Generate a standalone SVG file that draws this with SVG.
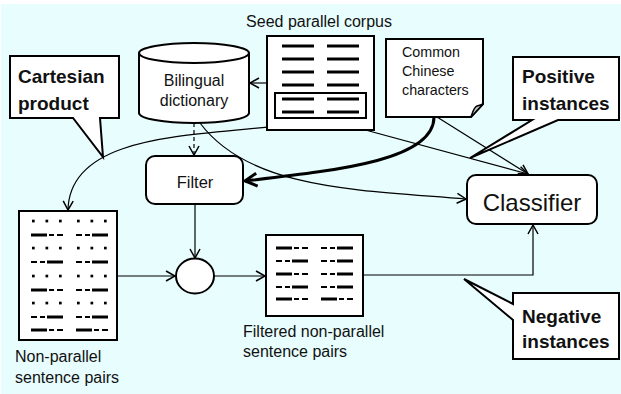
<svg xmlns="http://www.w3.org/2000/svg" xmlns:xlink="http://www.w3.org/1999/xlink" width="621" height="394" viewBox="0 0 621 394">
<style>
.txt{font-family:"Liberation Sans",Arial,sans-serif;fill:#111}
.bold{font-family:"Liberation Sans",Arial,sans-serif;font-weight:bold;fill:#111;font-size:19px}
.box{fill:#fff;stroke:#000;stroke-width:2}
.conn{fill:none;stroke:#000;stroke-width:1.2}
.callout{fill:#fff;stroke:#000;stroke-width:2;stroke-linejoin:miter}
.tk{stroke:#000;stroke-width:3}
.tn{stroke:#000;stroke-width:2}
</style>
<defs>
<marker id="ah" markerUnits="userSpaceOnUse" markerWidth="14" markerHeight="14" refX="0" refY="0" viewBox="-12 -7 14 14" orient="auto">
<path d="M-9,-5 L0,0 L-9,5" fill="none" stroke="#000" stroke-width="1.5"/>
</marker>
<marker id="ahb" markerUnits="userSpaceOnUse" markerWidth="20" markerHeight="20" refX="0" refY="0" viewBox="-16 -10 20 20" orient="auto">
<path d="M-12,-6.5 L0,0 L-12,6.5" fill="none" stroke="#000" stroke-width="3"/>
</marker>
<g id="pa"><line x1="0" y1="0" x2="16" y2="0" class="tk"/><line x1="18" y1="0" x2="23" y2="0" class="tn"/><line x1="26" y1="0" x2="32" y2="0" class="tn"/></g>
<g id="pb"><line x1="0" y1="0" x2="6" y2="0" class="tn"/><line x1="9" y1="0" x2="14" y2="0" class="tn"/><line x1="16" y1="0" x2="32" y2="0" class="tk"/></g>
<g id="pd"><rect x="1" y="-1.3" width="2.7" height="2.7" fill="#000"/><rect x="14.5" y="-1.3" width="2.7" height="2.7" fill="#000"/><rect x="28" y="-1.3" width="2.7" height="2.7" fill="#000"/></g>
</defs>
<rect x="1" y="4" width="620" height="390" fill="#E8FDFD"/>

<g id="connectors">
<line x1="267" y1="83" x2="250" y2="83" class="conn" marker-end="url(#ah)"/>
<line x1="194" y1="123" x2="194" y2="155" class="conn" stroke-dasharray="4,3" marker-end="url(#ah)"/>
<path d="M321 118 C240 140, 70 120, 68 210" class="conn" marker-end="url(#ah)"/>
<line x1="321" y1="118" x2="528" y2="174" class="conn" marker-end="url(#ah)"/>
<line x1="437" y1="117" x2="528" y2="174" class="conn" marker-end="url(#ah)"/>
<path d="M434 117 C434 160, 340 170, 245 181" fill="none" stroke="#000" stroke-width="3" marker-end="url(#ahb)"/>
<path d="M200 123 C250 190, 360 190, 466 199" class="conn" marker-end="url(#ah)"/>
<line x1="195" y1="204" x2="195" y2="258" class="conn" marker-end="url(#ah)"/>
<line x1="117" y1="276" x2="175" y2="276" class="conn" marker-end="url(#ah)"/>
<line x1="214" y1="276" x2="265" y2="276" class="conn" marker-end="url(#ah)"/>
<path d="M363 275 H533 V225" class="conn" marker-end="url(#ah)"/>
</g>

<g id="dictionary">
<path d="M139 53 V113 A55 10 0 0 0 249 113 V53 A55 10 0 0 0 139 53 Z" class="box"/>
<path d="M139 53 A55 10 0 0 0 249 53" fill="none" stroke="#000" stroke-width="2"/>
<text x="194" y="86" class="txt" font-size="16" text-anchor="middle">Bilingual</text>
<text x="194" y="106" class="txt" font-size="16" text-anchor="middle">dictionary</text>
</g>

<g id="seed-corpus">
<text x="319" y="27" class="txt" font-size="16" text-anchor="middle">Seed parallel corpus</text>
<rect x="267" y="36" width="107" height="94" class="box"/>
<rect x="275" y="93" width="91" height="25" fill="none" stroke="#000" stroke-width="2"/>
<g class="tk">
<line x1="282" y1="46" x2="314" y2="46"/><line x1="327" y1="46" x2="359" y2="46"/>
<line x1="282" y1="59" x2="314" y2="59"/><line x1="327" y1="59" x2="359" y2="59"/>
<line x1="282" y1="72" x2="314" y2="72"/><line x1="327" y1="72" x2="359" y2="72"/>
<line x1="282" y1="85" x2="314" y2="85"/><line x1="327" y1="85" x2="359" y2="85"/>
<line x1="282" y1="99" x2="314" y2="99"/><line x1="327" y1="99" x2="359" y2="99"/>
<line x1="282" y1="112" x2="314" y2="112"/><line x1="327" y1="112" x2="359" y2="112"/>
</g>
</g>

<g id="common-chinese">
<path d="M386 39 H483 V104 L471 117 H386 Z" class="box"/>
<path d="M471 117 C473 111, 474 107, 477 106 C479 105.5, 481 105, 483 104 Z" fill="#c8c8c8" stroke="#000" stroke-width="1.5"/>
<text x="402" y="57" class="txt" font-size="14.3">Common</text>
<text x="402" y="76" class="txt" font-size="14.3">Chinese</text>
<text x="402" y="95" class="txt" font-size="14.3">characters</text>
</g>

<g id="cartesian-callout">
<path d="M10 56 H119 V118 H100 L103 157 L73 118 H10 Z" class="callout"/>
<text x="18" y="83" class="bold">Cartesian</text>
<text x="18" y="110" class="bold">product</text>
</g>

<g id="positive-callout">
<path d="M513 57 H619 V120 H558 L470 158 L532 120 H513 Z" class="callout"/>
<text x="522" y="83" class="bold">Positive</text>
<text x="522" y="110" class="bold">instances</text>
</g>

<g id="negative-callout">
<path d="M513 293 H619 V359 H513 V320 L464 279 L513 304 Z" class="callout"/>
<text x="522" y="323" class="bold">Negative</text>
<text x="522" y="348" class="bold">instances</text>
</g>

<g id="filter">
<rect x="146" y="156" width="97" height="48" rx="9" class="box"/>
<text x="195" y="188" class="txt" font-size="16.5" text-anchor="middle">Filter</text>
</g>

<g id="classifier">
<rect x="467" y="175" width="130" height="49" rx="9" class="box"/>
<text x="532" y="211" class="txt" font-size="24" text-anchor="middle">Classifier</text>
</g>

<g id="join">
<ellipse cx="195" cy="276" rx="19" ry="17.5" class="box"/>
</g>

<g id="non-parallel">
<rect x="19" y="211" width="98" height="129" class="box"/>
<use href="#pd" x="31" y="221"/><use href="#pd" x="76" y="221"/>
<use href="#pa" x="31" y="235"/><use href="#pb" x="76" y="235"/>
<use href="#pd" x="31" y="248"/><use href="#pd" x="76" y="248"/>
<use href="#pb" x="31" y="262"/><use href="#pb" x="76" y="262"/>
<use href="#pd" x="31" y="276"/><use href="#pd" x="76" y="276"/>
<use href="#pa" x="31" y="290"/><use href="#pb" x="76" y="290"/>
<use href="#pd" x="31" y="303"/><use href="#pd" x="76" y="303"/>
<use href="#pb" x="31" y="317"/><use href="#pb" x="76" y="317"/>
<use href="#pa" x="31" y="330"/><use href="#pa" x="76" y="330"/>
<text x="15" y="362" class="txt" font-size="16">Non-parallel</text>
<text x="15" y="383" class="txt" font-size="16">sentence pairs</text>
</g>

<g id="filtered">
<rect x="266" y="235" width="97" height="81" class="box"/>
<use href="#pa" x="276" y="248"/><use href="#pb" x="321" y="248"/>
<use href="#pb" x="276" y="261"/><use href="#pb" x="321" y="261"/>
<use href="#pa" x="276" y="274"/><use href="#pb" x="321" y="274"/>
<use href="#pb" x="276" y="287"/><use href="#pb" x="321" y="287"/>
<use href="#pa" x="276" y="299"/><use href="#pa" x="321" y="299"/>
<text x="243" y="337" class="txt" font-size="16">Filtered non-parallel</text>
<text x="243" y="357" class="txt" font-size="16">sentence pairs</text>
</g>
</svg>
